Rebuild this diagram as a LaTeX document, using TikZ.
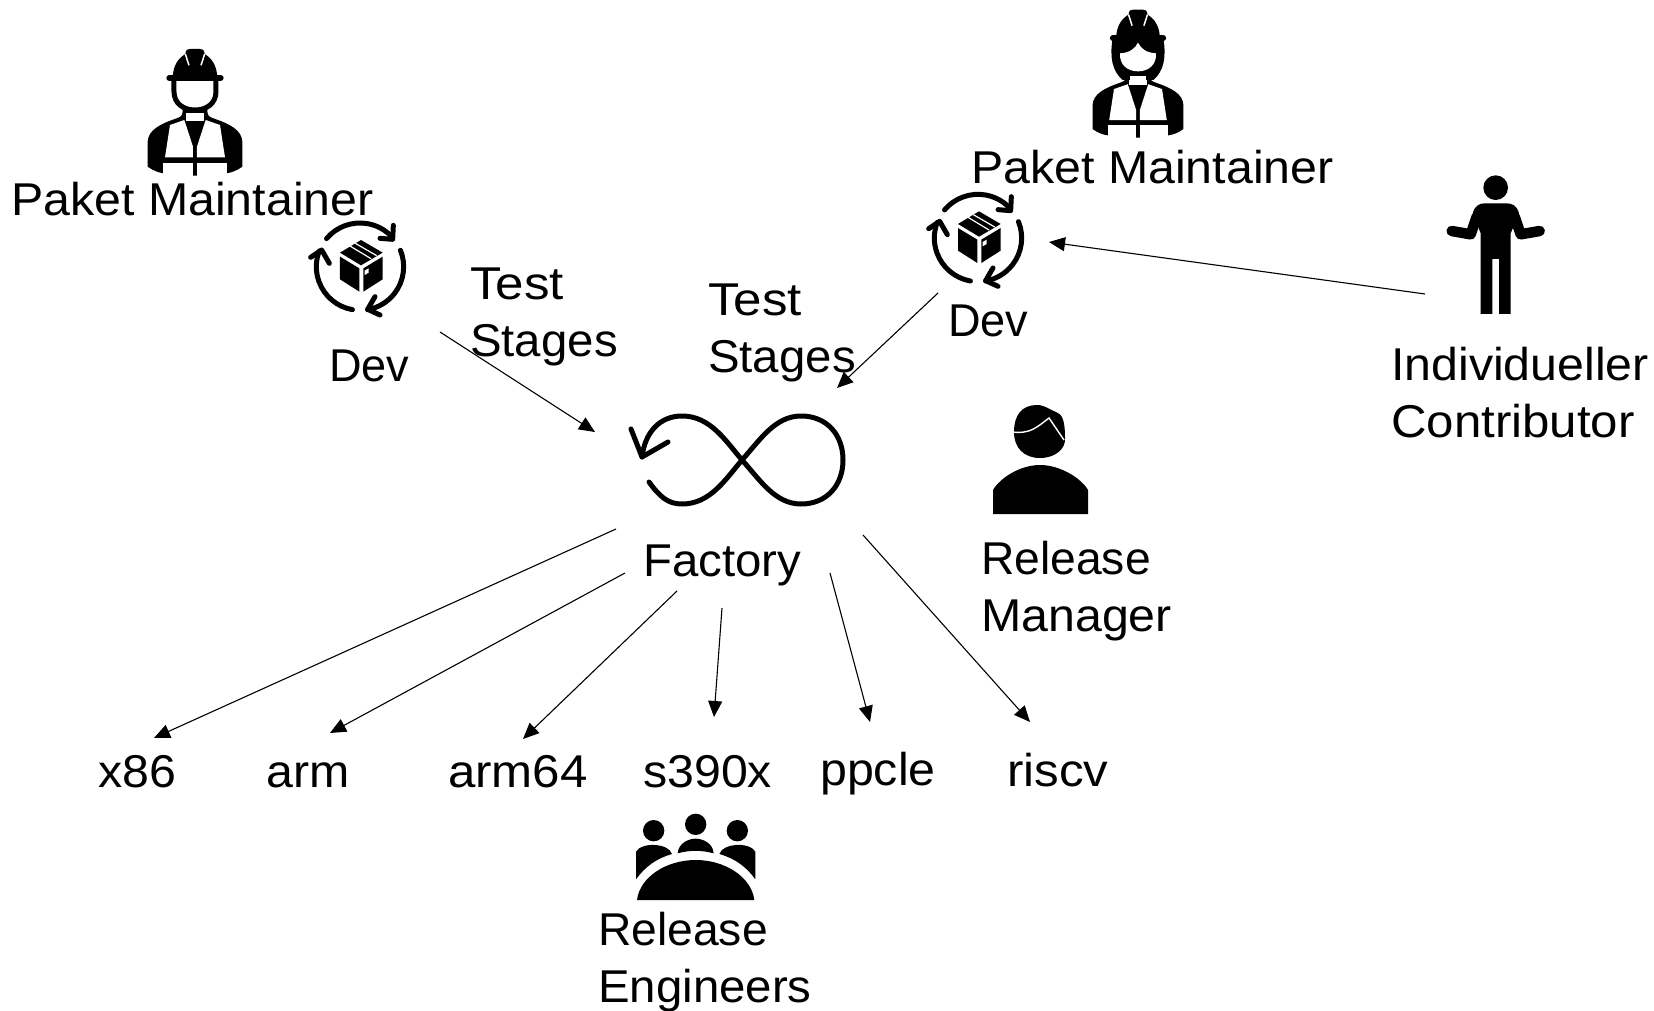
\documentclass[tikz,border=0pt]{standalone}
\usepackage{fontspec}
\setmainfont[FakeStretch=1.03]{Liberation Sans}
\newfontfamily\fa[FakeStretch=0.98]{Liberation Sans}
\newfontfamily\fb[FakeStretch=1.005]{Liberation Sans}
\newfontfamily\fc[FakeStretch=1.05]{Liberation Sans}
\newfontfamily\fd[FakeStretch=1.07]{Liberation Sans}
\newfontfamily\fe[FakeStretch=1.11]{Liberation Sans}
\usetikzlibrary{arrows.meta}
\tikzset{
  lab/.style={anchor=base west,inner sep=0pt,align=left,font=\fontsize{46}{57}\selectfont},
  conn/.style={line width=1.1pt,-{Triangle[length=16pt,width=14pt]}},
  zoomed/.style={x=0.33333pt,y=-0.33333pt}
}
\newcommand{\wkhelmet}{%
  \draw[line width=6pt,line cap=round] (508,144)--(662,144);
  \fill (518,142) .. controls (520,105) and (535,85) .. (556,72) .. controls (558,58) and (562,57) .. (570,57) -- (600,57) .. controls (608,57) and (612,58) .. (614,72) .. controls (635,85) and (650,105) .. (652,142) -- cycle;
  \draw[white,line width=1.5pt] (556,72)--(567,106) (614,72)--(603,106);
}
\newcommand{\wkbody}{%
  \fill (443,410) -- (443,335) .. controls (445,300) and (480,282) .. (530,265) .. controls (545,260) and (548,255) .. (548,240) -- (622,240) .. controls (622,255) and (625,260) .. (640,265) .. controls (690,282) and (725,300) .. (727,335) -- (727,410) .. controls (710,422) and (695,428) .. (678,430) -- (592,437) -- (578,437) -- (492,430) .. controls (475,428) and (460,422) .. (443,410) -- cycle;
  \fill[white] (558,248) rectangle (612,272);
  \fill[white] (510,285) -- (553,270) -- (579,350) -- (579,382) -- (495,382) -- cycle;
  \fill[white] (660,285) -- (617,270) -- (591,350) -- (591,382) -- (675,382) -- cycle;
  \fill[white] (490,398) -- (579,398) -- (579,440) -- (490,440) -- cycle;
  \fill[white] (680,398) -- (591,398) -- (591,440) -- (680,440) -- cycle;
}
\newcommand{\boxcycle}{%
  \begin{scope}[line width=5pt,line cap=round,line join=round]
    \draw (1080,710) ++(220:131) arc[start angle=220,end angle=315,radius=131];
    \draw (1180,586) -- (1178,628) -- (1140,625);
    \draw (1080,710) ++(-22:131) arc[start angle=-22,end angle=80,radius=131];
    \draw (1125,800) -- (1103,838) -- (1140,855);
    \draw (1080,710) ++(100:131) arc[start angle=100,end angle=201,radius=131];
    \draw (932,682) -- (965,660) -- (988,700);
  \end{scope}
  \fill (1083,630) -- (1148,668) -- (1083,706) -- (1020,668) -- cycle;
  \fill (1020,680) -- (1078,715) -- (1078,785) -- (1020,748) -- cycle;
  \fill (1090,715) -- (1148,680) -- (1148,748) -- (1090,785) -- cycle;
  \draw[white,line width=1.2pt] (1050,648) -- (1113,686) (1066,640) -- (1130,677);
  \fill[white] (1094,722) -- (1106,715) -- (1106,728) -- (1094,735) -- cycle;
}
\begin{document}
\begin{tikzpicture}[x=1pt,y=-1pt]
\useasboundingbox (0,0) rectangle (1654,1011);
\fill[white] (0,0) rectangle (1654,1011);

% male worker
\begin{scope}[shift={(0,30)},zoomed]
  \wkbody
  \wkhelmet
  \draw[line width=5pt] (522,150) -- (522,185) .. controls (522,220) and (550,240) .. (585,240) .. controls (620,240) and (648,220) .. (648,185) -- (648,150);
\end{scope}
% female worker
\begin{scope}[shift={(900,0)},zoomed]
  \begin{scope}[shift={(152.4,-6.5)},scale=.96]\wkbody\end{scope}
  \fill (637,120) .. controls (630,170) and (635,212) .. (668,240) -- (760,240) .. controls (793,212) and (798,170) .. (791,120) -- cycle;
  \fill[white] (660,160) .. controls (690,158) and (705,146) .. (714,128) .. controls (723,146) and (738,158) .. (768,160) .. controls (770,195) and (745,214) .. (714,214) .. controls (683,214) and (658,195) .. (660,160) -- cycle;
  \fill[white] (690,228) rectangle (738,250);
  \begin{scope}[shift={(140.7,-26.8)},scale=.98]\wkhelmet\end{scope}
\end{scope}
% box cycles
\begin{scope}[shift={(0,30)},zoomed]\boxcycle\end{scope}
\begin{scope}[shift={(618,1.33)},zoomed]\boxcycle\end{scope}

% infinity
\draw[line width=5pt,line cap=round,line join=round]
  (649,482) .. controls (660,497) and (668,504) .. (682,504)
  .. controls (710,504) and (725,480) .. (742,460)
  .. controls (760,440) and (775,416) .. (801,416)
  .. controls (827,416) and (843,435) .. (843,460)
  .. controls (843,485) and (827,504) .. (801,504)
  .. controls (775,504) and (760,480) .. (742,460)
  .. controls (725,440) and (710,416) .. (682,416)
  .. controls (660,416) and (645,432) .. (642,457);
\draw[line width=5pt,line cap=round,line join=round] (631,429) -- (642,457) -- (668,442);

% release manager
\fill (1014,432) .. controls (1014,415) and (1022,405) .. (1037,405) .. controls (1045,405) and (1050,410) .. (1056,412) .. controls (1062,414) and (1065,420) .. (1065,438) .. controls (1066,448) and (1056,458) .. (1040,458) .. controls (1024,458) and (1014,448) .. (1014,432) -- cycle;
\draw[white,line width=1.4pt] (1012,432) .. controls (1030,434) and (1036,428) .. (1049,418) -- (1064,440);
\fill (993,514) -- (993,490) .. controls (1000,478) and (1020,465) .. (1040,465) .. controls (1060,465) and (1081,478) .. (1088,490) -- (1088,514) -- cycle;

% individual contributor
\begin{scope}[shift={(1380,150)},zoomed]
  \fill (347,113) circle[radius=37];
  \fill (302,492) -- (302,250) -- (278,190) .. controls (285,165) and (300,160) .. (315,160) -- (378,160) .. controls (395,160) and (410,165) .. (417,190) -- (392,250) -- (392,492) -- (357,492) -- (357,327) -- (337,327) -- (337,492) -- cycle;
  \draw[line width=10.5pt,line cap=round,line join=round] (215,243) -- (272,253) -- (290,200);
  \draw[line width=10.5pt,line cap=round,line join=round] (479,243) -- (422,253) -- (404,200);
\end{scope}

% release engineers
\begin{scope}[shift={(580,780)},zoomed]
  \fill (221,152) circle[radius=32];
  \fill (347,133) circle[radius=32];
  \fill (472,152) circle[radius=32];
  \fill (168,298) -- (168,215) .. controls (175,200) and (205,193) .. (225,195) .. controls (250,197) and (270,205) .. (276,222) .. controls (230,235) and (195,260) .. (168,298) -- cycle;
  \fill (526,298) -- (526,215) .. controls (519,200) and (489,193) .. (469,195) .. controls (444,197) and (424,205) .. (418,222) .. controls (464,235) and (499,260) .. (526,298) -- cycle;
  \fill (293,220) .. controls (295,190) and (325,176) .. (347,176) .. controls (369,176) and (399,190) .. (401,220) .. controls (365,210) and (329,210) .. (293,220) -- cycle;
  \fill (171,360) .. controls (180,290) and (260,240) .. (347,240) .. controls (434,240) and (514,290) .. (523,360) -- cycle;
\end{scope}

% labels
\node[lab] (pm1) at (11,215) {\fc Paket Maintainer};
\node[lab] (pm2) at (971,184) {\fc Paket Maintainer};
\node[lab] (dev1) at (329,381) {\fa Dev};
\node[lab] (dev2) at (948,336) {\fa Dev};
\node[lab] (ts1) at (470,356) {\fe Test\\Stages};
\node[lab] (ts2) at (708,372) {\fe Test\\Stages};
\node[lab] (ic) at (1391,437) {\fc Individueller\\\fd Contributor};
\node[lab] (fac) at (643,576) {Factory};
\node[lab] (rm) at (981,631) {\fb Release\\\fc Manager};
\node[lab] (x86) at (98,787) {\fc x86};
\node[lab] (arm) at (266,787) {\fc arm};
\node[lab] (arm64) at (448,787) {\fd arm64};
\node[lab] (s390) at (643,787) {\fc s390x};
\node[lab] (ppc) at (820,785) {\fc ppcle};
\node[lab] (risc) at (1007,786) {\fd riscv};
\node[lab] (re) at (598,1002) {\fb Release\\Engineers};

% connector ends
\coordinate (a1s) at (440,332);  \coordinate (a1t) at (595,432);
\coordinate (a2s) at (938,293);  \coordinate (a2t) at (837,388);
\coordinate (a3s) at (1425,294); \coordinate (a3t) at (1049,242);
\coordinate (b1s) at (616,529);  \coordinate (b1t) at (154,738);
\coordinate (b2s) at (625,573);  \coordinate (b2t) at (330,733);
\coordinate (b3s) at (677,591);  \coordinate (b3t) at (523,739);
\coordinate (b4s) at (722,608);  \coordinate (b4t) at (714,717);
\coordinate (b5s) at (830,573);  \coordinate (b5t) at (870,722);
\coordinate (b6s) at (863,535);  \coordinate (b6t) at (1030,722);
\foreach \p in {a1,a2,a3,b1,b2,b3,b4,b5,b6}{\draw[conn] (\p s) -- (\p t);}
\end{tikzpicture}
\end{document}
